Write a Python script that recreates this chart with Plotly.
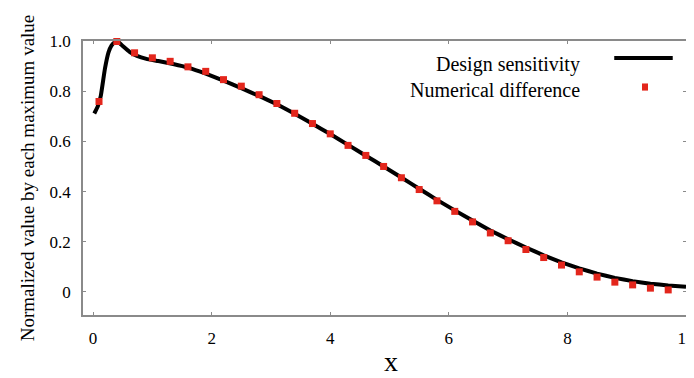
import plotly.graph_objects as go

# Design sensitivity (continuous line)
line_x = [0.02, 0.08, 0.13, 0.2, 0.26, 0.31, 0.36, 0.42, 0.51, 0.62, 0.74, 0.9, 1.1, 1.35,
          1.6, 1.9, 2.2, 2.5, 2.8, 3.1, 3.4, 3.7, 4.0, 4.3, 4.6, 4.9, 5.2, 5.5, 5.8, 6.1,
          6.4, 6.7, 7.0, 7.3, 7.6, 7.9, 8.2, 8.5, 8.8, 9.1, 9.4, 9.7, 10.0]
line_y = [0.711, 0.740, 0.781, 0.890, 0.955, 0.982, 0.994, 0.997, 0.978, 0.956, 0.941,
          0.929, 0.920, 0.908, 0.894, 0.870, 0.842, 0.812, 0.781, 0.748, 0.710, 0.670,
          0.629, 0.586, 0.543, 0.500, 0.456, 0.411, 0.367, 0.325, 0.285, 0.245, 0.210,
          0.177, 0.146, 0.118, 0.094, 0.073, 0.056, 0.043, 0.033, 0.026, 0.021]

# Numerical difference (markers)
pts_x = [0.1, 0.4, 0.7, 1.0, 1.3, 1.6, 1.9, 2.2, 2.5, 2.8, 3.1, 3.4, 3.7, 4.0, 4.3, 4.6,
         4.9, 5.2, 5.5, 5.8, 6.1, 6.4, 6.7, 7.0, 7.3, 7.6, 7.9, 8.2, 8.5, 8.8, 9.1, 9.4, 9.7]
pts_y = [0.759, 0.998, 0.953, 0.933, 0.919, 0.897, 0.879, 0.846, 0.820, 0.786, 0.751,
         0.712, 0.671, 0.630, 0.584, 0.544, 0.500, 0.455, 0.408, 0.363, 0.321, 0.279,
         0.235, 0.204, 0.169, 0.137, 0.107, 0.080, 0.059, 0.039, 0.028, 0.015, 0.008]

x_ticks = [0, 2, 4, 6, 8, 10]
y_ticks = [0, 0.2, 0.4, 0.6, 0.8, 1.0]
y_tick_text = ["0", "0.2", "0.4", "0.6", "0.8", "1.0"]

legend_names = ["Design sensitivity", "Numerical difference"]
x_title = "x"
y_title = "Normalized value by each maximum value"

FONT = "Liberation Serif"
RED = "#e3261c"
GRAY = "#8a8a8a"

# The page body has an 8px margin, so the figure is 8px smaller than the window
W, H = 686, 370

fig = go.Figure()
fig.add_trace(go.Scatter(x=line_x, y=line_y, mode="lines",
                         line=dict(color="black", width=4, shape="spline", smoothing=0.3),
                         name=legend_names[0], showlegend=False, cliponaxis=False))
fig.add_trace(go.Scatter(x=pts_x, y=pts_y, mode="markers",
                         marker=dict(symbol="square", size=7, color=RED),
                         name=legend_names[1], showlegend=False, cliponaxis=False))

# Custom legend: text on the left (right-aligned), symbol on the right
fig.add_annotation(xref="paper", yref="paper", x=0.8275, y=0.915, xanchor="right",
                   yanchor="middle", text=legend_names[0], showarrow=False,
                   font=dict(family=FONT, size=20, color="black"))
fig.add_annotation(xref="paper", yref="paper", x=0.8275, y=0.82, xanchor="right",
                   yanchor="middle", text=legend_names[1], showarrow=False,
                   font=dict(family=FONT, size=20, color="black"))
fig.add_shape(type="line", xref="paper", yref="paper", x0=0.881, x1=0.978, y0=0.938,
              y1=0.938, line=dict(color="black", width=4))
fig.add_shape(type="rect", xref="paper", yref="paper", x0=0.927, x1=0.937, y0=0.819,
              y1=0.845, line=dict(width=0), fillcolor=RED)

# x-axis title placed as an annotation (axis titles are clamped inside the margin)
fig.add_annotation(xref="paper", yref="paper", x=0.511, y=-0.1715, xanchor="center",
                   yanchor="middle", text=x_title, showarrow=False,
                   font=dict(family=FONT, size=28, color="black"))

fig.update_layout(
    width=W, height=H,
    margin=dict(l=75, r=8, t=33, b=63, autoexpand=False),
    paper_bgcolor="white", plot_bgcolor="white",
    font=dict(family=FONT, size=17, color="black"),
)
fig.update_xaxes(range=[-0.17, 10.0], tickvals=x_ticks, ticks="inside", ticklen=3,
                 tickcolor=GRAY, showline=True, linecolor=GRAY, linewidth=1.5,
                 mirror="ticks", showgrid=False, zeroline=False, automargin=False,
                 tickfont=dict(family=FONT, size=17), ticklabelstandoff=7,
                 ticklabeloverflow="allow")
fig.update_yaxes(range=[-0.092, 1.0], tickvals=y_ticks, ticktext=y_tick_text,
                 ticks="inside", ticklen=3, tickcolor=GRAY, showline=True,
                 linecolor=GRAY, linewidth=1.5, mirror="ticks", showgrid=False,
                 zeroline=False, automargin=False, tickfont=dict(family=FONT, size=17),
                 ticklabelstandoff=7,
                 title=dict(text=y_title, font=dict(family=FONT, size=19), standoff=10))

fig.write_html("out.html")
